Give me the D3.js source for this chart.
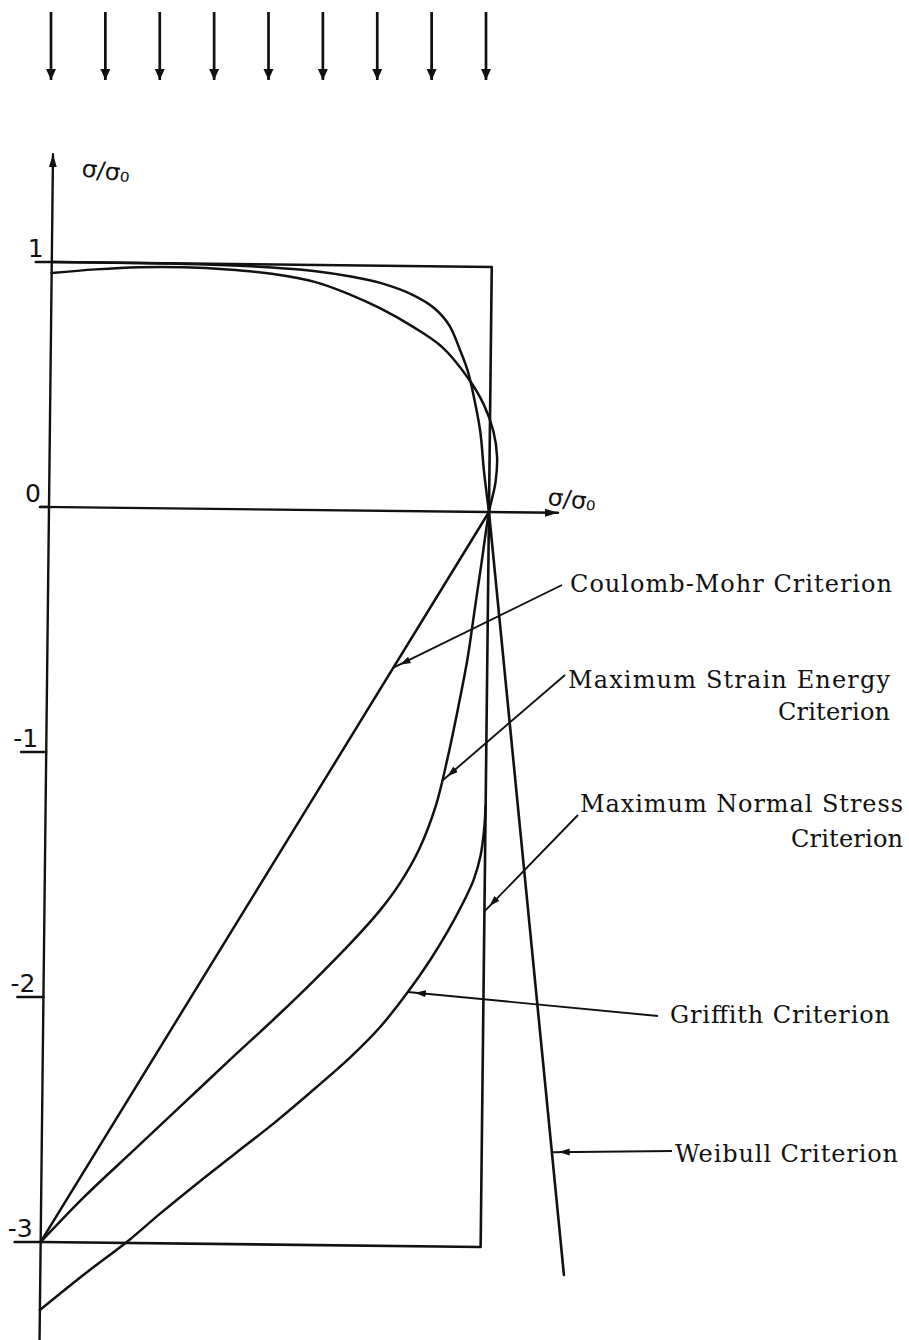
<!DOCTYPE html>
<html>
<head>
<meta charset="utf-8">
<script src="https://cdn.jsdelivr.net/npm/d3@7"></script>
<style>
  body { margin: 0; background: #fff; }
  text { fill: #111; }
  .lbl { font-family: "DejaVu Serif", serif; font-size: 24px; }
  .tk { font-family: "DejaVu Sans", sans-serif; font-size: 25px; }
  .ax { font-family: "DejaVu Sans", sans-serif; font-size: 24px; }
</style>
</head>
<body>
<div id="chart"></div>
<script>
// load arrows along the top, at fractions of sigma0
var loadArrows = [0, 0.125, 0.25, 0.375, 0.5, 0.625, 0.75, 0.875, 1];

// vertical axis ticks
var yTicks = [1, 0, -1, -2, -3];
var yTickLabels = ["1", "0", "-1", "-2", "-3"];

// maximum normal stress (box)
var boxS1 = [0, 1, 1, 0];
var boxS2 = [1, 1, -3, -3];

// coulomb-mohr
var coulombS1 = [1, 0];
var coulombS2 = [0, -3];

// maximum strain energy
var strainS1 = [0, 0.1, 0.2, 0.3, 0.4, 0.5, 0.6, 0.68, 0.747, 0.823, 0.89, 0.949, 0.985, 1.008, 1.017, 1.014, 1,
                0.985, 0.97, 0.955, 0.935, 0.913, 0.887, 0.85, 0.807, 0.763, 0.7, 0.62, 0.53, 0.43, 0.32, 0.21, 0.1, 0];
var strainS2 = [0.955, 0.972, 0.983, 0.985, 0.978, 0.962, 0.93, 0.88, 0.827, 0.752, 0.67, 0.546, 0.44, 0.33, 0.225, 0.12, 0,
                -0.2, -0.4, -0.6, -0.8, -1.0, -1.2, -1.38, -1.52, -1.63, -1.76, -1.91, -2.07, -2.24, -2.43, -2.62, -2.81, -3];

// weibull, curved part then straight part
var weibullS1 = [0, 0.2, 0.35, 0.5, 0.6, 0.68, 0.747, 0.822, 0.87, 0.905, 0.93, 0.949, 0.965, 0.978, 0.988, 1];
var weibullS2 = [1.0, 1.0, 0.997, 0.988, 0.975, 0.955, 0.93, 0.882, 0.83, 0.76, 0.66, 0.57, 0.45, 0.33, 0.16, 0];
var weibullLineS1 = [1, 1.19];
var weibullLineS2 = [0, -3.11];

// griffith (branch leaving the box edge)
var griffithS1 = [1, 0.997, 0.99, 0.975, 0.951, 0.915, 0.878, 0.828, 0.766, 0.7, 0.62, 0.53, 0.44, 0.35, 0.27, 0.2, 0.1, 0];
var griffithS2 = [-1.2, -1.3, -1.4, -1.5, -1.597, -1.72, -1.831, -1.963, -2.107, -2.23, -2.36, -2.5, -2.63, -2.76, -2.88, -2.99, -3.13, -3.278];

// annotations
var critNames = [["Coulomb-Mohr Criterion"], ["Maximum Strain Energy", "Criterion"], ["Maximum Normal Stress", "Criterion"], ["Griffith Criterion"], ["Weibull Criterion"]];
var tipS1 = [0.787, 0.9, 1, 0.828, 1.159];
var tipS2 = [-0.64, -1.1, -1.63, -1.963, -2.61];

var W = 909, H = 1340;
var svg = d3.select("#chart").append("svg")
  .attr("width", W)
  .attr("height", H);

var x = d3.scaleLinear().domain([0, 1]).range([0, 440]);
var y = d3.scaleLinear().domain([0, -3]).range([0, 735]);
var ox = 49, oy = 507, tilt = 0.65 * Math.PI / 180;

// the scan is turned a little, so every plotted point goes through this
function P(s1, s2) {
  var dx = x(s1), dy = y(s2);
  return [ox + dx * Math.cos(tilt) - dy * Math.sin(tilt),
          oy + dx * Math.sin(tilt) + dy * Math.cos(tilt)];
}

var defs = svg.append("defs");
function marker(id, w, l, back) {
  defs.append("marker")
    .attr("id", id)
    .attr("viewBox", (-l) + " " + (-w) + " " + (l + back + 2) + " " + (2 * w))
    .attr("refX", back).attr("refY", 0)
    .attr("markerUnits", "userSpaceOnUse")
    .attr("markerWidth", l + back + 2).attr("markerHeight", 2 * w)
    .attr("orient", "auto")
    .append("path")
    .attr("d", "M" + (-l) + "," + (-w / 2) + "L0,0L" + (-l) + "," + (w / 2) + "Z")
    .attr("fill", "#111");
}
marker("lead", 7, 11, 7);
marker("axh", 8, 13, 0);
marker("load", 10, 11, 0);

var curve = d3.line()
  .x(function(d) { return P(d[0], d[1])[0]; })
  .y(function(d) { return P(d[0], d[1])[1]; })
  .curve(d3.curveCatmullRom.alpha(0.5));
var straight = d3.line()
  .x(function(d) { return P(d[0], d[1])[0]; })
  .y(function(d) { return P(d[0], d[1])[1]; });

var plot = svg.append("g")
  .attr("fill", "none")
  .attr("stroke", "#111")
  .attr("stroke-linecap", "round")
  .attr("stroke-linejoin", "round");

// axes
plot.append("path")
  .attr("d", straight([[0, -3.42], [0, 1.44]]))
  .attr("stroke-width", 2.4)
  .attr("marker-end", "url(#axh)");
plot.append("path")
  .attr("d", straight([[-0.02, 0], [1.157, 0]]))
  .attr("stroke-width", 2.4)
  .attr("marker-end", "url(#axh)");

// ticks to the left of the axis
var tickLen = {"1": 16, "0": 9, "-1": 25, "-2": 26, "-3": 26};
yTicks.forEach(function(t, i) {
  var a = P(0, t);
  plot.append("line")
    .attr("x1", a[0] - tickLen[yTickLabels[i]]).attr("y1", a[1])
    .attr("x2", a[0]).attr("y2", a[1])
    .attr("stroke-width", 2.6);
  svg.append("text")
    .attr("class", "tk")
    .attr("x", a[0] - 8).attr("y", a[1] - 5)
    .attr("text-anchor", "end")
    .text(yTickLabels[i]);
});

// criteria
plot.append("path").attr("d", straight(d3.zip(boxS1, boxS2))).attr("stroke-width", 2.6);
plot.append("path").attr("d", straight(d3.zip(coulombS1, coulombS2))).attr("stroke-width", 2.5);
plot.append("path").attr("d", curve(d3.zip(strainS1, strainS2))).attr("stroke-width", 2.5);
plot.append("path").attr("d", curve(d3.zip(weibullS1, weibullS2))).attr("stroke-width", 2.5);
plot.append("path").attr("d", straight(d3.zip(weibullLineS1, weibullLineS2))).attr("stroke-width", 2.6);
plot.append("path").attr("d", curve(d3.zip(griffithS1, griffithS2))).attr("stroke-width", 2.5);

// axis titles
var yt = P(0, 1.44);
svg.append("text").attr("class", "ax")
  .attr("x", yt[0] + 28).attr("y", yt[1] + 22)
  .attr("transform", "rotate(7," + (yt[0] + 28) + "," + (yt[1] + 22) + ")")
  .text("σ/σ₀");
var xt = P(1.157, 0);
svg.append("text").attr("class", "ax")
  .attr("x", xt[0] - 11).attr("y", xt[1] - 8)
  .attr("transform", "rotate(7," + (xt[0] - 11) + "," + (xt[1] - 8) + ")")
  .text("σ/σ₀");

// load arrows on top
var xTop = d3.scaleLinear().domain([0, 1]).range([51, 486]);
svg.append("g").selectAll("line")
  .data(loadArrows)
  .join("line")
  .attr("x1", function(d) { return xTop(d); })
  .attr("x2", function(d) { return xTop(d); })
  .attr("y1", 12).attr("y2", 80)
  .attr("stroke", "#111")
  .attr("stroke-width", 2.7)
  .attr("marker-end", "url(#load)");

// annotation leaders and labels
var starts = [[562, 585], [565, 675], [578, 815], [658, 1016], [672, 1151]];
var textPos = [
  [{x: 570, y: 592, a: "start", w: 322}],
  [{x: 890, y: 688, a: "end", w: 322}, {x: 890, y: 720, a: "end", w: 112}],
  [{x: 903, y: 812, a: "end", w: 323}, {x: 903, y: 847, a: "end", w: 112}],
  [{x: 890, y: 1023, a: "end", w: 220}],
  [{x: 898, y: 1162, a: "end", w: 223}]
];
critNames.forEach(function(lines, i) {
  var tp = P(tipS1[i], tipS2[i]);
  svg.append("line")
    .attr("x1", starts[i][0]).attr("y1", starts[i][1])
    .attr("x2", tp[0]).attr("y2", tp[1])
    .attr("stroke", "#111")
    .attr("stroke-width", 1.9)
    .attr("marker-end", "url(#lead)");
  lines.forEach(function(s, j) {
    var p = textPos[i][j];
    svg.append("text")
      .attr("class", "lbl")
      .attr("x", p.x).attr("y", p.y)
      .attr("text-anchor", p.a)
      .attr("textLength", p.w)
      .attr("lengthAdjust", "spacing")
      .text(s);
  });
});
</script>
</body>
</html>
